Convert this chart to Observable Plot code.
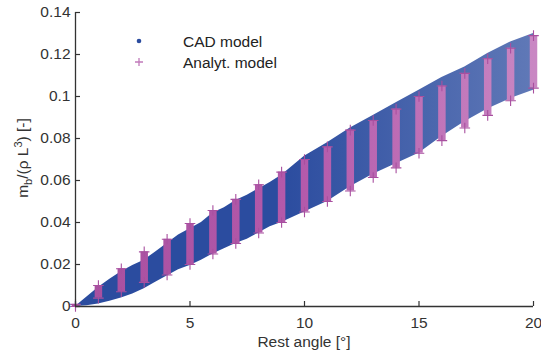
<!DOCTYPE html>
<html><head><meta charset="utf-8">
<script src="https://cdn.jsdelivr.net/npm/d3@7"></script>
<script src="https://cdn.jsdelivr.net/npm/@observablehq/plot@0.6"></script>
<style>
body{margin:0;background:#fff;}
#wrap{position:relative;width:541px;height:360px;}
</style></head><body><div id="wrap"></div>
<script>
// CAD model cloud: envelope (lower / upper bound)
const cadAngle = [0, 0.5, 1, 1.5, 2, 2.5, 3, 3.5, 4, 4.5, 5, 5.5, 6, 6.5, 7, 7.5, 8, 8.5, 9, 9.5, 10, 11, 12, 13, 14, 15, 16, 17, 18, 19, 20];
const cadLow   = [0, 0.0003, 0.0012, 0.0025, 0.004, 0.006, 0.0085, 0.0115, 0.0145, 0.0175, 0.0195, 0.022, 0.025, 0.0275, 0.030, 0.032, 0.035, 0.038, 0.040, 0.0425, 0.045, 0.050, 0.057, 0.063, 0.068, 0.073, 0.081, 0.088, 0.094, 0.099, 0.103];
const cadHigh  = [0, 0.0045, 0.009, 0.013, 0.0165, 0.0195, 0.022, 0.026, 0.030, 0.034, 0.037, 0.040, 0.0445, 0.047, 0.0505, 0.053, 0.056, 0.059, 0.0625, 0.067, 0.0715, 0.078, 0.085, 0.091, 0.097, 0.103, 0.109, 0.114, 0.1205, 0.126, 0.130];

// Analytical model: range at each integer rest angle
const analytAngle = [0, 1, 2, 3, 4, 5, 6, 7, 8, 9, 10, 11, 12, 13, 14, 15, 16, 17, 18, 19, 20];
const analytMin   = [0, 0.004, 0.007, 0.0115, 0.015, 0.020, 0.025, 0.030, 0.035, 0.040, 0.045, 0.050, 0.055, 0.0614, 0.066, 0.073, 0.079, 0.085, 0.091, 0.098, 0.104];
const analytMax   = [0.001, 0.010, 0.018, 0.026, 0.032, 0.0395, 0.0457, 0.051, 0.058, 0.064, 0.070, 0.076, 0.084, 0.0886, 0.094, 0.100, 0.105, 0.111, 0.118, 0.123, 0.129];

const xTicks = [0, 5, 10, 15, 20];
const yTicks = [0, 0.02, 0.04, 0.06, 0.08, 0.1, 0.12, 0.14];
const legendLabels = ["CAD model", "Analyt. model"];
const xLabel = "Rest angle [°]";

const cad = cadAngle.map((a, i) => ({a, lo: cadLow[i], hi: cadHigh[i]}));
const analyt = analytAngle.map((a, i) => ({a, lo: analytMin[i], hi: analytMax[i]}));
const ends = analyt.flatMap(d => [{a: d.a, v: d.lo}, {a: d.a, v: d.hi}]);

const W = 541, H = 360, mL = 75, mR = 8, mT = 12, mB = 54;
const BLUE = "#2b4c9f", AXIS = "#333";
const FONT = "Liberation Sans, Arial, Helvetica, sans-serif";

const plot = Plot.plot({
  width: W, height: H, marginLeft: mL, marginRight: mR, marginTop: mT, marginBottom: mB,
  style: {fontFamily: FONT, fontSize: "15.5px", color: AXIS, background: "white", overflow: "visible"},
  x: {domain: [0, 20]},
  y: {domain: [0, 0.14]},
  marks: [
    Plot.areaY(cad, {x: "a", y1: "lo", y2: "hi", fill: "url(#cadGrad)"}),
    Plot.ruleX(analyt, {x: "a", y1: "lo", y2: "hi", stroke: "url(#anGrad)", strokeWidth: 7.5}),
    Plot.dot(ends, {x: "a", y: "v", symbol: "plus", r: 3.5, stroke: "url(#anGrad)", strokeWidth: 1.1}),
    Plot.ruleX([0], {stroke: AXIS, strokeWidth: 1.3}),
    Plot.ruleY([0], {stroke: AXIS, strokeWidth: 1.3}),
    Plot.tickY(yTicks, {y: d => d, insetRight: W - mL - mR - 5, stroke: AXIS, strokeWidth: 1.2}),
    Plot.tickX(xTicks, {x: d => d, insetTop: H - mT - mB - 5, stroke: AXIS, strokeWidth: 1.2}),
    Plot.axisY(yTicks, {tickSize: 0, tickPadding: 5, label: null, tickFormat: d => d === 0 ? "0" : String(+d.toFixed(2))}),
    Plot.axisX(xTicks, {tickSize: 0, tickPadding: 10, label: null, tickFormat: d => String(d)})
  ]
});

const svg = d3.select(plot);
svg.insert("defs", ":first-child").html(`
  <linearGradient id="cadGrad" gradientUnits="userSpaceOnUse" x1="${mL}" y1="0" x2="${W - mR}" y2="0">
    <stop offset="0" stop-color="${BLUE}" stop-opacity="1"/>
    <stop offset="0.45" stop-color="${BLUE}" stop-opacity="1"/>
    <stop offset="1" stop-color="${BLUE}" stop-opacity="0.75"/>
  </linearGradient>
  <linearGradient id="anGrad" gradientUnits="userSpaceOnUse" x1="${mL}" y1="0" x2="${W - mR}" y2="0">
    <stop offset="0" stop-color="#a84f9f"/>
    <stop offset="0.5" stop-color="#b45aab"/>
    <stop offset="1" stop-color="#c987c3"/>
  </linearGradient>`);

// x label
svg.append("text").attr("x", 304).attr("y", 347).attr("text-anchor", "middle")
  .attr("font-family", FONT).attr("font-size", 15.5).attr("fill", AXIS).text(xLabel);

// y label with sub/superscript
const yl = svg.append("text").attr("transform", "translate(28,158) rotate(-90)")
  .attr("text-anchor", "middle").attr("font-family", FONT).attr("font-size", 15.5).attr("fill", AXIS);
yl.append("tspan").text("m");
yl.append("tspan").attr("dy", 4).attr("font-size", 11).text("b");
yl.append("tspan").attr("dy", -4).text("/(ρ L");
yl.append("tspan").attr("dy", -6).attr("font-size", 11).text("3");
yl.append("tspan").attr("dy", 6).text(") [-]");

// legend
const lg = svg.append("g").attr("font-family", FONT).attr("font-size", 15.5).attr("fill", "#222").attr("text-anchor", "start");
lg.append("circle").attr("cx", 139).attr("cy", 41).attr("r", 2.3).attr("fill", BLUE);
lg.append("path").attr("d", "M135,62H143M139,58V66").attr("stroke", "#c17abb").attr("stroke-width", 1.3);
lg.append("text").attr("x", 183).attr("y", 47).attr("text-anchor", "start").text(legendLabels[0]);
lg.append("text").attr("x", 183).attr("y", 68).attr("text-anchor", "start").text(legendLabels[1]);

document.getElementById("wrap").appendChild(plot);
</script></body></html>
